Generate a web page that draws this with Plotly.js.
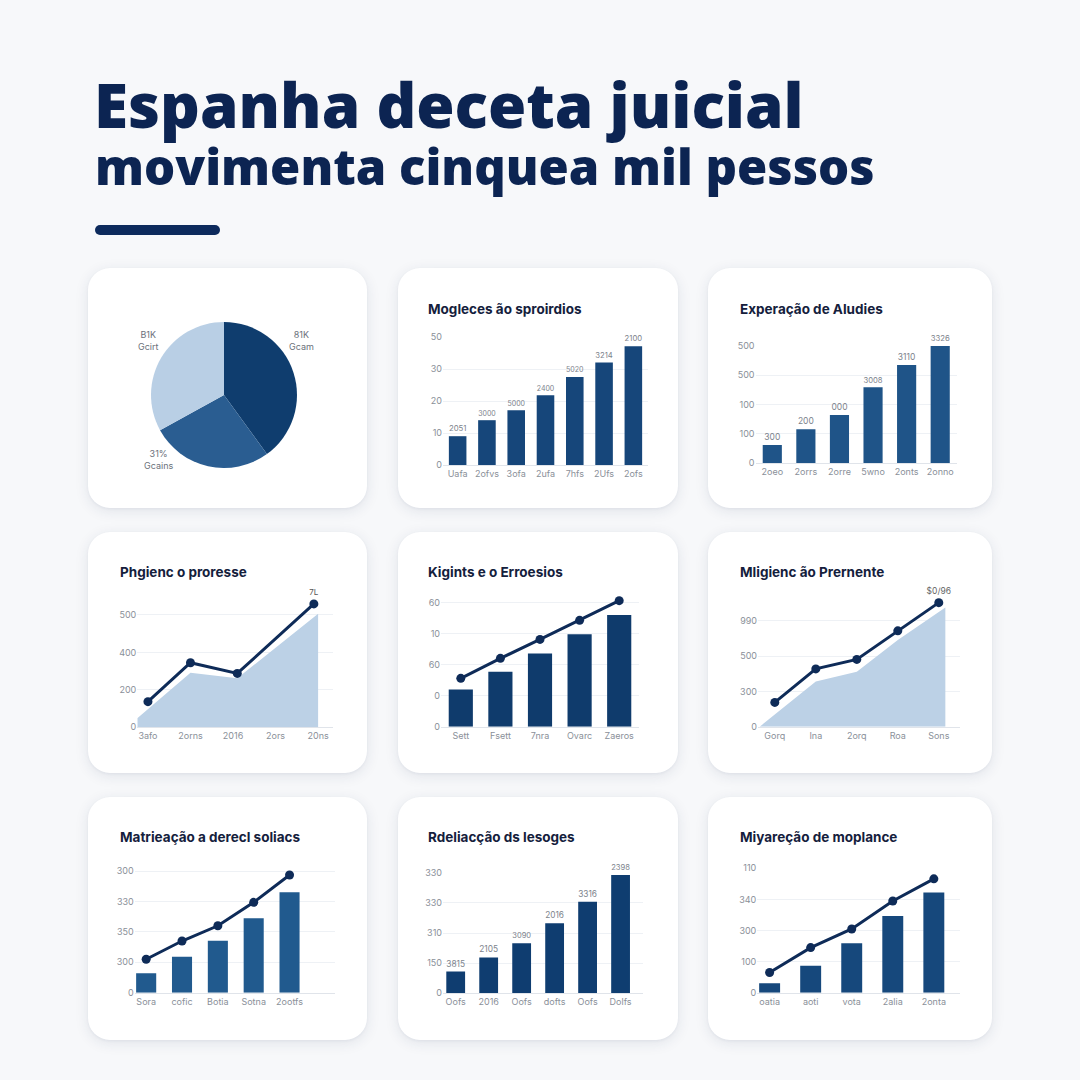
<!DOCTYPE html>
<html>
<head>
<meta charset="utf-8">
<script src="https://cdn.plot.ly/plotly-3.0.1.min.js"></script>
<style>
  html, body { margin: 0; padding: 0; background: #f7f8fa; }
  #wrap { position: relative; width: 1080px; height: 1080px; overflow: hidden; background: #f7f8fa; }
  .card { position: absolute; background: #ffffff; border-radius: 22px;
          box-shadow: 0 3px 14px rgba(30, 50, 90, 0.10), 0 1px 3px rgba(30, 50, 90, 0.05); }
  .rule { position: absolute; left: 95px; top: 225px; width: 125px; height: 10px; border-radius: 5px; background: #0d2a5c; }
  #chart { position: absolute; left: 0; top: 0; width: 1080px; height: 1080px; }
</style>
</head>
<body>
<div id="wrap">
  <div class="card" style="left:88px;top:268px;width:279px;height:240px"></div>
  <div class="card" style="left:398px;top:268px;width:280px;height:240px"></div>
  <div class="card" style="left:708px;top:268px;width:284px;height:240px"></div>
  <div class="card" style="left:88px;top:532px;width:279px;height:241px"></div>
  <div class="card" style="left:398px;top:532px;width:280px;height:241px"></div>
  <div class="card" style="left:708px;top:532px;width:284px;height:241px"></div>
  <div class="card" style="left:88px;top:797px;width:279px;height:243px"></div>
  <div class="card" style="left:398px;top:797px;width:280px;height:243px"></div>
  <div class="card" style="left:708px;top:797px;width:284px;height:243px"></div>
  <div class="rule"></div>
  <div id="chart"></div>
</div>
<script>
// ---------------- DATA ----------------
const titleLine1 = 'Espanha deceta juicial';
const titleLine2 = 'movimenta cinquea mil pessos';

// Panel 1: pie
const pieValues = [40, 27, 33];
const pieLabels = ['81K<br>Gcam', '31%<br>Gcains', 'B1K<br>Gcirt'];

// Panel 2: bars
const p2Title = 'Mogleces ão sproirdios';
const p2Labels = ['Uafa', '2ofvs', '3ofa', '2ufa', '7hfs', '2Ufs', '2ofs'];
const p2Values = [9.0, 14.0, 17.1, 21.8, 27.5, 32.0, 37.1];
const p2Text = ['2051', '3000', '5000', '2400', '5020', '3214', '2100'];
const p2TickVals = [0, 10, 20, 30, 40];
const p2TickText = ['0', '10', '20', '30', '50'];

// Panel 3: bars
const p3Title = 'Experação de Aludies';
const p3Labels = ['2oeo', '2orrs', '2orre', '5wno', '2onts', '2onno'];
const p3Values = [62, 116, 165, 259, 335, 400];
const p3Text = ['300', '200', '000', '3008', '3110', '3326'];
const p3TickVals = [0, 100, 200, 300, 400];
const p3TickText = ['0', '100', '100', '500', '500'];

// Panel 4: line + area
const p4Title = 'Phgienc o proresse';
const p4Labels = ['3afo', '2orns', '2016', '2ors', '20ns'];
const p4LineX = [0, 1, 2.1, 3.9];
const p4LineY = [137, 345, 288, 659];
const p4LineText = ['', '', '', '7L'];
const p4AreaX = [-0.25, 1, 2.1, 4];
const p4AreaY = [48, 292, 262, 607];
const p4TickVals = [0, 200, 400, 600];
const p4TickText = ['0', '200', '400', '500'];

// Panel 5: bars + line
const p5Title = 'Kigints e o Erroesios';
const p5Labels = ['Sett', 'Fsett', '7nra', 'Ovarc', 'Zaeros'];
const p5Bars = [24, 35.5, 47.3, 59.6, 72];
const p5Line = [31.2, 44.1, 56.3, 68.6, 81.3];
const p5TickVals = [0, 20, 40, 60, 80];
const p5TickText = ['0', '0', '60', '10', '60'];

// Panel 6: line + area
const p6Title = 'Mligienc ão Prernente';
const p6Labels = ['Gorq', 'Ina', '2orq', 'Roa', 'Sons'];
const p6LineY = [69, 164, 191, 272, 352];
const p6LineText = ['', '', '', '', '$0/96'];
const p6AreaX = [-0.37, 1, 2, 3, 4.16];
const p6AreaY = [0, 128, 156, 246, 338];
const p6TickVals = [0, 100, 200, 300];
const p6TickText = ['0', '300', '500', '990'];

// Panel 7: bars + line
const p7Title = 'Matrieação a derecl soliacs';
const p7Labels = ['Sora', 'cofic', 'Botia', 'Sotna', '2ootfs'];
const p7Bars = [64, 118, 171, 245, 330];
const p7Line = [110, 170, 220, 297, 387];
const p7TickVals = [0, 100, 200, 300, 400];
const p7TickText = ['0', '300', '350', '330', '300'];

// Panel 8: bars
const p8Title = 'Rdeliacção ds lesoges';
const p8Labels = ['Oofs', '2016', 'Oofs', 'dofts', 'Oofs', 'Dolfs'];
const p8Values = [72, 119, 166, 232, 304, 392];
const p8Text = ['3815', '2105', '3090', '2016', '3316', '2398'];
const p8TickVals = [0, 100, 200, 300, 400];
const p8TickText = ['0', '150', '310', '330', '330'];

// Panel 9: bars + line
const p9Title = 'Miyareção de moplance';
const p9Labels = ['oatia', 'aoti', 'vota', '2alia', '2onta'];
const p9Bars = [30, 87, 159, 247, 322];
const p9Line = [65, 145, 205, 295, 366];
const p9TickVals = [0, 100, 200, 300, 400];
const p9TickText = ['0', '100', '300', '340', '110'];

// ---------------- STYLE / LAYOUT ----------------
const W = 1080, H = 1080;
const NAVY = '#0e2b58';
const TICKFONT = { family: 'Inter, Roboto, sans-serif', size: 9, color: '#8a9099' };
const BARTEXTFONT = { family: 'Inter, Roboto, sans-serif', size: 8.5, color: '#7d838c' };
const idx = arr => arr.map((_, i) => i);
const px = v => v / W;
const py = v => 1 - v / H;

const layout = {
  width: W, height: H,
  margin: { l: 0, r: 0, t: 0, b: 0 },
  paper_bgcolor: 'rgba(0,0,0,0)',
  plot_bgcolor: 'rgba(0,0,0,0)',
  showlegend: false,
  annotations: [],
  font: { family: 'Inter, Roboto, sans-serif' }
};

function axes(n, x0, x1, yTop, yBot, xr, xticks, xtext, yr, yticks, ytext) {
  const xs = n === 1 ? 'xaxis' : 'xaxis' + n;
  const ys = n === 1 ? 'yaxis' : 'yaxis' + n;
  const yid = n === 1 ? 'y' : 'y' + n;
  const xid = n === 1 ? 'x' : 'x' + n;
  layout[xs] = {
    domain: [px(x0), px(x1)], range: xr, anchor: yid,
    tickmode: 'array', tickvals: xticks, ticktext: xtext,
    showgrid: false, zeroline: false, showline: true, linecolor: '#e0e4ea', linewidth: 1,
    ticks: '', tickfont: TICKFONT, fixedrange: true, automargin: false
  };
  layout[ys] = {
    domain: [py(yBot), py(yTop)], range: yr, anchor: xid,
    tickmode: 'array', tickvals: yticks, ticktext: ytext,
    showgrid: true, gridcolor: '#eef1f5', gridwidth: 1, zeroline: false, showline: false,
    ticks: '', tickfont: TICKFONT, fixedrange: true, automargin: false
  };
  return { x: xid, y: yid };
}

function panelTitle(text, xPx, yPx) {
  layout.annotations.push({
    text: text, xref: 'paper', yref: 'paper', x: px(xPx), y: py(yPx),
    xanchor: 'left', yanchor: 'middle', showarrow: false,
    font: { family: 'Inter, Roboto, sans-serif', size: 13.5, weight: 700, color: '#14203c' }
  });
}

// Main title
layout.annotations.push({
  text: titleLine1, xref: 'paper', yref: 'paper', x: px(92), y: py(104),
  xanchor: 'left', yanchor: 'middle', showarrow: false,
  font: { family: 'Open Sans, sans-serif', size: 62, weight: 800, color: '#0c2452' }
});
layout.annotations.push({
  text: titleLine2, xref: 'paper', yref: 'paper', x: px(93), y: py(166),
  xanchor: 'left', yanchor: 'middle', showarrow: false,
  font: { family: 'Open Sans, sans-serif', size: 49, weight: 800, color: '#0c2452' }
});

const traces = [];

// Panel 1: pie
traces.push({
  type: 'pie', values: pieValues, labels: ['a', 'b', 'c'], sort: false, direction: 'clockwise', rotation: 0,
  marker: { colors: ['#0f3d6e', '#2a5d91', '#b9cfe5'], line: { width: 0 } },
  textinfo: 'none', hoverinfo: 'none',
  domain: { x: [px(151), px(297)], y: [py(468), py(322)] }
});
const pieLabelPos = [[301, 340], [158, 459], [148, 340]];
pieLabels.forEach((t, i) => {
  layout.annotations.push({
    text: t, xref: 'paper', yref: 'paper', x: px(pieLabelPos[i][0]), y: py(pieLabelPos[i][1]),
    xanchor: 'center', yanchor: 'middle', showarrow: false,
    font: { family: 'Inter, Roboto, sans-serif', size: 9, color: '#6b717b' }
  });
});

// Panel 2
let a = axes(1, 443, 648, 337, 465, [-0.5, 6.5], idx(p2Labels), p2Labels, [0, 40], p2TickVals, p2TickText);
traces.push({ type: 'bar', x: idx(p2Labels), y: p2Values, text: p2Text, textposition: 'outside',
  textfont: BARTEXTFONT, cliponaxis: false, width: 0.6, marker: { color: '#16467a' },
  xaxis: a.x, yaxis: a.y, hoverinfo: 'none' });
panelTitle(p2Title, 426, 309);

// Panel 3
a = axes(2, 755.5, 957, 346, 463.3, [-0.5, 5.5], idx(p3Labels), p3Labels, [0, 400], p3TickVals, p3TickText);
traces.push({ type: 'bar', x: idx(p3Labels), y: p3Values, text: p3Text, textposition: 'outside',
  textfont: BARTEXTFONT, cliponaxis: false, width: 0.57, marker: { color: '#1f5488' },
  xaxis: a.x, yaxis: a.y, hoverinfo: 'none' });
panelTitle(p3Title, 738, 309);

// Panel 4
a = axes(3, 137.3, 333, 600, 727.3, [-0.25, 4.35], idx(p4Labels), p4Labels, [0, 680], p4TickVals, p4TickText);
traces.push({ type: 'scatter', mode: 'lines', x: p4AreaX, y: p4AreaY, fill: 'tozeroy',
  fillcolor: '#bcd1e6', line: { width: 0, color: '#bcd1e6' }, xaxis: a.x, yaxis: a.y, hoverinfo: 'none' });
traces.push({ type: 'scatter', mode: 'lines+markers+text', x: p4LineX, y: p4LineY, text: p4LineText,
  textposition: 'top center', textfont: { family: 'Inter, sans-serif', size: 8, color: '#555' },
  line: { color: NAVY, width: 3 }, marker: { color: NAVY, size: 9 }, cliponaxis: false,
  xaxis: a.x, yaxis: a.y, hoverinfo: 'none' });
panelTitle(p4Title, 118, 571.5);

// Panel 5
a = axes(4, 441, 639, 593.4, 726.7, [-0.5, 4.5], idx(p5Labels), p5Labels, [0, 86], p5TickVals, p5TickText);
traces.push({ type: 'bar', x: idx(p5Labels), y: p5Bars, width: 0.61, marker: { color: '#0f3b6c' },
  xaxis: a.x, yaxis: a.y, hoverinfo: 'none' });
traces.push({ type: 'scatter', mode: 'lines+markers', x: idx(p5Labels), y: p5Line,
  line: { color: NAVY, width: 3 }, marker: { color: NAVY, size: 9 }, cliponaxis: false,
  xaxis: a.x, yaxis: a.y, hoverinfo: 'none' });
panelTitle(p5Title, 426, 571.5);

// Panel 6
a = axes(5, 758, 959.7, 596.3, 726.7, [-0.41, 4.51], idx(p6Labels), p6Labels, [0, 370], p6TickVals, p6TickText);
traces.push({ type: 'scatter', mode: 'lines', x: p6AreaX, y: p6AreaY, fill: 'tozeroy',
  fillcolor: '#bcd1e6', line: { width: 0, color: '#bcd1e6' }, xaxis: a.x, yaxis: a.y, hoverinfo: 'none' });
traces.push({ type: 'scatter', mode: 'lines+markers+text', x: idx(p6Labels), y: p6LineY, text: p6LineText,
  textposition: 'top center', textfont: { family: 'Inter, sans-serif', size: 8.5, color: '#666' },
  line: { color: NAVY, width: 3 }, marker: { color: NAVY, size: 9 }, cliponaxis: false,
  xaxis: a.x, yaxis: a.y, hoverinfo: 'none' });
panelTitle(p6Title, 738, 571.5);

// Panel 7
a = axes(6, 134.7, 334.7, 868, 992.7, [-0.32, 5.26], idx(p7Labels), p7Labels, [0, 410], p7TickVals, p7TickText);
traces.push({ type: 'bar', x: idx(p7Labels), y: p7Bars, width: 0.56, marker: { color: '#215a8e' },
  xaxis: a.x, yaxis: a.y, hoverinfo: 'none' });
traces.push({ type: 'scatter', mode: 'lines+markers', x: idx(p7Labels), y: p7Line,
  line: { color: NAVY, width: 3 }, marker: { color: NAVY, size: 9 }, cliponaxis: false,
  xaxis: a.x, yaxis: a.y, hoverinfo: 'none' });
panelTitle(p7Title, 118, 836.5);

// Panel 8
a = axes(7, 443, 643, 872.7, 993.3, [-0.385, 5.68], idx(p8Labels), p8Labels, [0, 400], p8TickVals, p8TickText);
traces.push({ type: 'bar', x: idx(p8Labels), y: p8Values, text: p8Text, textposition: 'outside',
  textfont: BARTEXTFONT, cliponaxis: false, width: 0.57, marker: { color: '#0f3d70' },
  xaxis: a.x, yaxis: a.y, hoverinfo: 'none' });
panelTitle(p8Title, 426, 836.5);

// Panel 9
a = axes(8, 757.3, 959.7, 868.3, 992.7, [-0.30, 4.63], idx(p9Labels), p9Labels, [0, 400], p9TickVals, p9TickText);
traces.push({ type: 'bar', x: idx(p9Labels), y: p9Bars, width: 0.51, marker: { color: '#16487c' },
  xaxis: a.x, yaxis: a.y, hoverinfo: 'none' });
traces.push({ type: 'scatter', mode: 'lines+markers', x: idx(p9Labels), y: p9Line,
  line: { color: NAVY, width: 3 }, marker: { color: NAVY, size: 9 }, cliponaxis: false,
  xaxis: a.x, yaxis: a.y, hoverinfo: 'none' });
panelTitle(p9Title, 738, 836.5);

Plotly.newPlot('chart', traces, layout, { staticPlot: true, displayModeBar: false });
</script>
</body>
</html>
